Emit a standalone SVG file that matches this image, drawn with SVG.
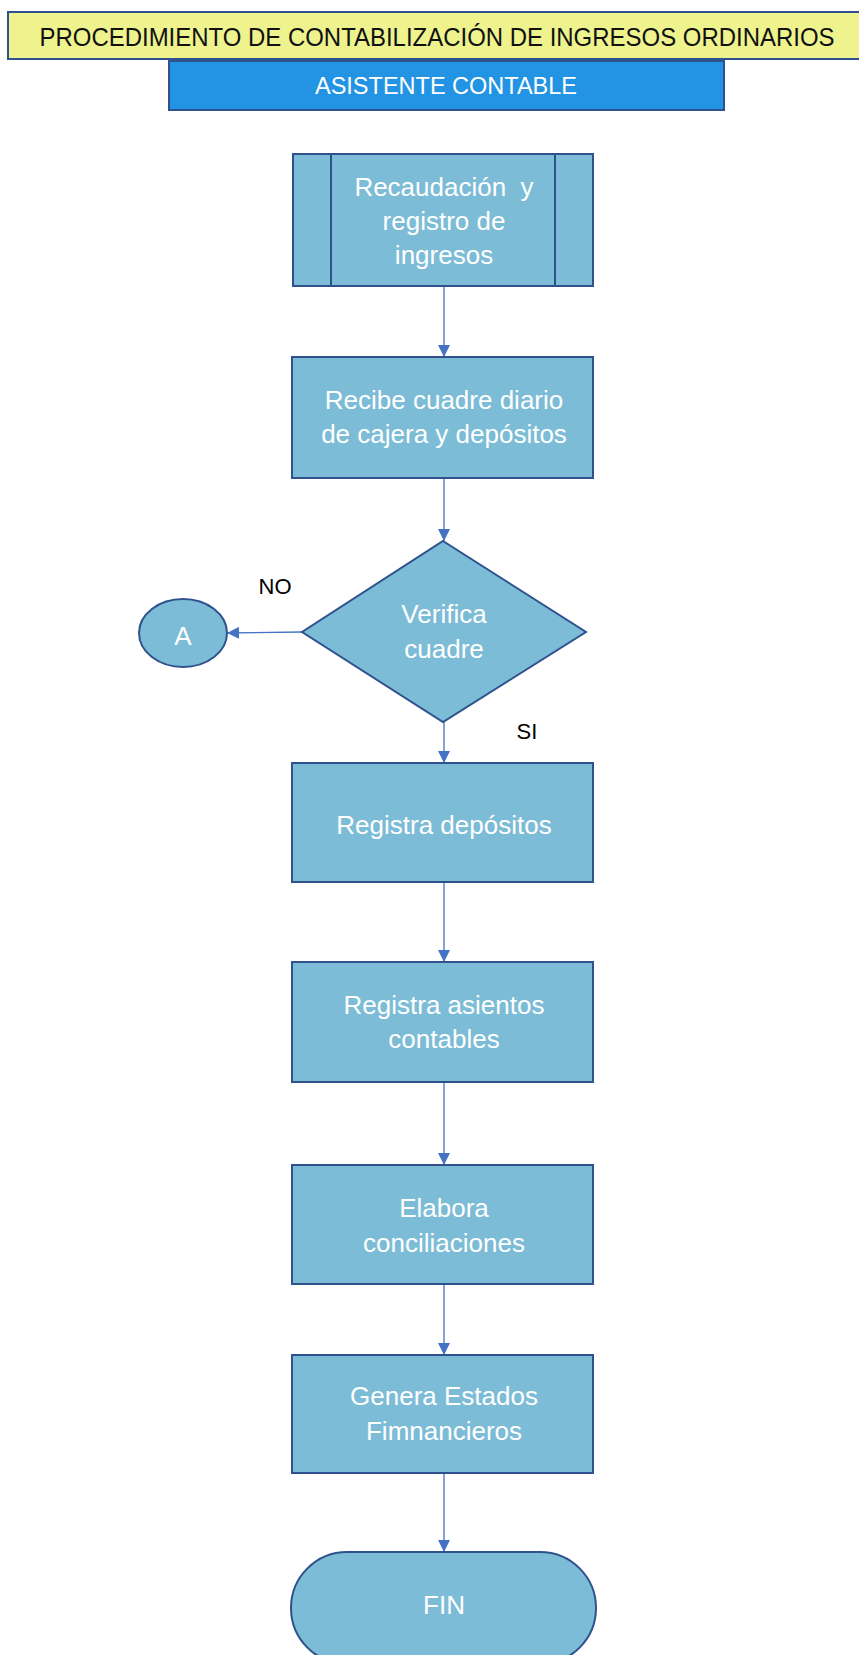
<svg xmlns="http://www.w3.org/2000/svg" width="859" height="1655" viewBox="0 0 859 1655">
  <style>
    .node { fill: #7CBCD6; stroke: #2F528F; stroke-width: 2; }
    .lbl { font-family: "Liberation Sans", "Open Sans", sans-serif; font-size: 26px; fill: #FFFFFF; text-anchor: middle; }
    .edge { stroke: #4472C4; stroke-width: 1.3; fill: none; marker-end: url(#arrow); }
    .tag { font-family: "Liberation Sans", "Open Sans", sans-serif; font-size: 22px; fill: #000000; text-anchor: middle; }
  </style>
  <defs>
    <marker id="arrow" viewBox="0 0 12 12" refX="12" refY="6" markerWidth="12" markerHeight="12" markerUnits="userSpaceOnUse" orient="auto">
      <path d="M0,0 L12,6 L0,12 Z" fill="#4472C4"/>
    </marker>
  </defs>
  <rect width="859" height="1655" fill="#FFFFFF"/>

  <!-- header -->
  <g id="title">
    <rect x="8" y="12" width="860" height="47" fill="#EEF38D" stroke="#2F528F" stroke-width="2"/>
    <text x="437" y="46" font-family="Liberation Sans, sans-serif" font-size="25" fill="#111111" text-anchor="middle" textLength="795" lengthAdjust="spacingAndGlyphs">PROCEDIMIENTO DE CONTABILIZACIÓN DE INGRESOS ORDINARIOS</text>
  </g>
  <g id="role">
    <rect x="169" y="61" width="555" height="49" fill="#2394E3" stroke="#2F528F" stroke-width="2"/>
    <text x="446" y="94" font-family="Liberation Sans, sans-serif" font-size="24" fill="#FFFFFF" text-anchor="middle" textLength="262" lengthAdjust="spacingAndGlyphs">ASISTENTE CONTABLE</text>
  </g>

  <!-- connectors -->
  <g id="connectors">
    <line class="edge" x1="444" y1="286" x2="444" y2="357"/>
    <line class="edge" x1="444" y1="478" x2="444" y2="541"/>
    <line class="edge" x1="302" y1="632" x2="227" y2="633"/>
    <line class="edge" x1="444" y1="722" x2="444" y2="763"/>
    <line class="edge" x1="444" y1="882" x2="444" y2="962"/>
    <line class="edge" x1="444" y1="1082" x2="444" y2="1165"/>
    <line class="edge" x1="444" y1="1284" x2="444" y2="1355"/>
    <line class="edge" x1="444" y1="1473" x2="444" y2="1552"/>
    <text class="tag" x="275" y="594">NO</text>
    <text class="tag" x="527" y="739">SI</text>
  </g>

  <g id="recaudacion">
    <rect class="node" x="293" y="154" width="300" height="132"/>
    <line x1="331" y1="154" x2="331" y2="286" stroke="#2F528F" stroke-width="2"/>
    <line x1="555" y1="154" x2="555" y2="286" stroke="#2F528F" stroke-width="2"/>
    <text class="lbl" x="444" y="196" xml:space="preserve">Recaudación  y</text>
    <text class="lbl" x="444" y="230">registro de</text>
    <text class="lbl" x="444" y="264">ingresos</text>
  </g>

  <g id="recibe-cuadre">
    <rect class="node" x="292" y="357" width="301" height="121"/>
    <text class="lbl" x="444" y="409">Recibe cuadre diario</text>
    <text class="lbl" x="444" y="443">de cajera y depósitos</text>
  </g>

  <g id="verifica">
    <polygon class="node" points="443,541 586,632 443,722 302,632"/>
    <text class="lbl" x="444" y="623">Verifica</text>
    <text class="lbl" x="444" y="658">cuadre</text>
  </g>

  <g id="conector-a">
    <ellipse class="node" cx="183" cy="633" rx="44" ry="34"/>
    <text class="lbl" x="183" y="645">A</text>
  </g>

  <g id="registra-depositos">
    <rect class="node" x="292" y="763" width="301" height="119"/>
    <text class="lbl" x="444" y="834">Registra depósitos</text>
  </g>

  <g id="registra-asientos">
    <rect class="node" x="292" y="962" width="301" height="120"/>
    <text class="lbl" x="444" y="1014">Registra asientos</text>
    <text class="lbl" x="444" y="1048">contables</text>
  </g>

  <g id="conciliaciones">
    <rect class="node" x="292" y="1165" width="301" height="119"/>
    <text class="lbl" x="444" y="1217">Elabora</text>
    <text class="lbl" x="444" y="1252">conciliaciones</text>
  </g>

  <g id="estados">
    <rect class="node" x="292" y="1355" width="301" height="118"/>
    <text class="lbl" x="444" y="1405">Genera Estados</text>
    <text class="lbl" x="444" y="1440">Fimnancieros</text>
  </g>

  <g id="fin">
    <rect class="node" x="291" y="1552" width="305" height="112" rx="56" ry="56"/>
    <text class="lbl" x="444" y="1614">FIN</text>
  </g>
</svg>
